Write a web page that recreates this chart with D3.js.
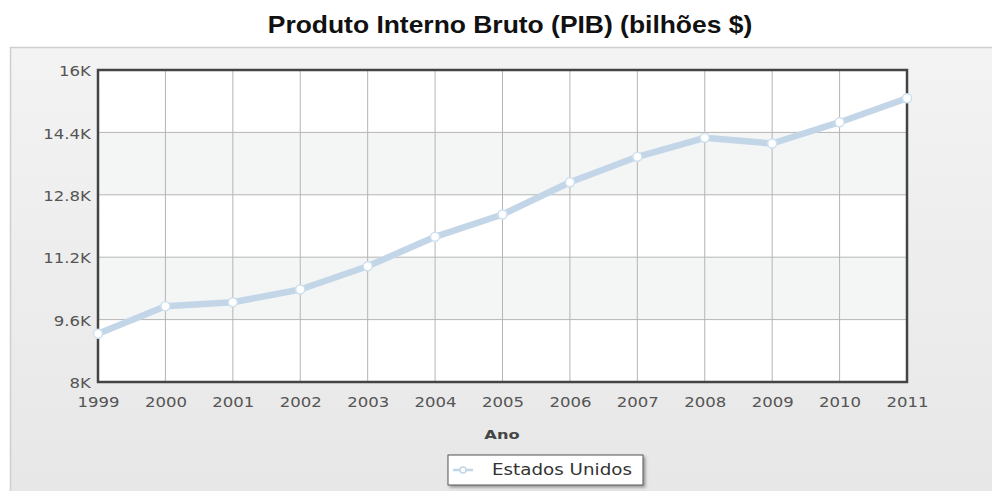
<!DOCTYPE html>
<html lang="pt">
	<head>
		<meta charset="utf-8">
		<title>PIB</title>
		<script src="https://cdn.jsdelivr.net/npm/d3@7"></script>
		<style type="text/css">
			body {
				margin: 0;
				background-color: #ffffff;
			}
			.tick text {
				font-family: "DejaVu Sans", Verdana, sans-serif;
				font-size: 14px;
				fill: #555;
			}
		</style>
	</head>
	<body>
		<script type="text/javascript">

			// Data
			var anos = ["1999", "2000", "2001", "2002", "2003", "2004", "2005", "2006", "2007", "2008", "2009", "2010", "2011"];
			var pib = [9236, 9944, 10046, 10372, 10969, 11723, 12295, 13123, 13774, 14261, 14115, 14661, 15277];
			var yTicks = [8000, 9600, 11200, 12800, 14400, 16000];
			var serie = "Estados Unidos";

			var w = 992, h = 491;
			var m = {left: 98, right: 907, top: 70, bottom: 382};
			// the source picture is stretched sideways a bit, so texts are too
			var stretch = 1.18;

			var svg = d3.select("body").append("svg")
				.attr("width", w)
				.attr("height", h);

			var defs = svg.append("defs");
			var grad = defs.append("linearGradient")
				.attr("id", "bg")
				.attr("x1", 0).attr("y1", 0).attr("x2", 0).attr("y2", 1);
			grad.append("stop").attr("offset", "0%").attr("stop-color", "#f3f3f3");
			grad.append("stop").attr("offset", "100%").attr("stop-color", "#e6e6e6");

			var shadow = defs.append("filter").attr("id", "shadow")
				.attr("x", "-10%").attr("y", "-20%").attr("width", "130%").attr("height", "160%");
			shadow.append("feDropShadow")
				.attr("dx", 2).attr("dy", 2).attr("stdDeviation", 1.5)
				.attr("flood-color", "#000").attr("flood-opacity", 0.35);

			// Title
			svg.append("text")
				.attr("transform", "translate(510,33) scale(1.15,1)")
				.attr("text-anchor", "middle")
				.attr("font-family", "Liberation Sans, Arial, sans-serif")
				.attr("font-weight", "bold")
				.attr("font-size", "23px")
				.attr("fill", "#111")
				.text("Produto Interno Bruto (PIB) (bilhões $)");

			// Outer panel
			svg.append("rect")
				.attr("x", 10.5)
				.attr("y", 47.5)
				.attr("width", w)
				.attr("height", h)
				.attr("fill", "url(#bg)")
				.attr("stroke", "#cfcfcf")
				.attr("stroke-width", 1.5);

			// Scales
			var x = d3.scalePoint()
				.domain(anos)
				.range([m.left, m.right]);

			var y = d3.scaleLinear()
				.domain([8000, 16000])
				.range([m.bottom, m.top]);

			// Plot background with alternating bands
			var plot = svg.append("g");
			plot.append("rect")
				.attr("x", m.left).attr("y", m.top)
				.attr("width", m.right - m.left)
				.attr("height", m.bottom - m.top)
				.attr("fill", "#ffffff");

			plot.selectAll("rect.band")
				.data(d3.pairs(yTicks).filter(function(d, i) { return i % 2 == 1; }))
				.enter().append("rect")
				.attr("class", "band")
				.attr("x", m.left)
				.attr("width", m.right - m.left)
				.attr("y", function(d) { return y(d[1]); })
				.attr("height", function(d) { return y(d[0]) - y(d[1]); })
				.attr("fill", "#f4f5f5");

			// Grid
			plot.selectAll("line.hgrid")
				.data(yTicks)
				.enter().append("line")
				.attr("class", "hgrid")
				.attr("x1", m.left).attr("x2", m.right)
				.attr("y1", function(d) { return y(d); })
				.attr("y2", function(d) { return y(d); })
				.attr("stroke", "#b5b5b5")
				.attr("stroke-width", 1);

			plot.selectAll("line.vgrid")
				.data(anos)
				.enter().append("line")
				.attr("class", "vgrid")
				.attr("y1", m.top).attr("y2", m.bottom)
				.attr("x1", function(d) { return x(d); })
				.attr("x2", function(d) { return x(d); })
				.attr("stroke", "#b5b5b5")
				.attr("stroke-width", 1);

			// Axes
			var yAxis = svg.append("g")
				.attr("transform", "translate(" + m.left + ",0)")
				.call(d3.axisLeft(y)
					.tickValues(yTicks)
					.tickSize(0)
					.tickPadding(6)
					.tickFormat(function(d) { return (d / 1000) + "K"; }));
			yAxis.select(".domain").remove();
			yAxis.selectAll(".tick text")
				.attr("dy", "0.4em")
				.attr("transform", "scale(" + stretch + ",1)");

			var xAxis = svg.append("g")
				.attr("transform", "translate(0," + m.bottom + ")")
				.call(d3.axisBottom(x)
					.tickSize(0)
					.tickPadding(15));
			xAxis.select(".domain").remove();
			xAxis.selectAll(".tick text")
				.attr("transform", "scale(" + stretch + ",1)");

			// Plot border
			svg.append("rect")
				.attr("x", m.left).attr("y", m.top)
				.attr("width", m.right - m.left)
				.attr("height", m.bottom - m.top)
				.attr("fill", "none")
				.attr("stroke", "#444")
				.attr("stroke-width", 2.5);

			// Line
			var line = d3.line()
				.x(function(d, i) { return x(anos[i]); })
				.y(function(d) { return y(d); });

			svg.append("path")
				.datum(pib)
				.attr("d", line)
				.attr("fill", "none")
				.attr("stroke", "#c2d6e8")
				.attr("stroke-width", 6.5)
				.attr("stroke-linejoin", "round");

			svg.selectAll("circle.pt")
				.data(pib)
				.enter().append("circle")
				.attr("class", "pt")
				.attr("cx", function(d, i) { return x(anos[i]); })
				.attr("cy", function(d) { return y(d); })
				.attr("r", 4.5)
				.attr("fill", "#ffffff")
				.attr("stroke", "#cfe0ee")
				.attr("stroke-width", 1.5);

			// Axis title
			svg.append("text")
				.attr("transform", "translate(502,439) scale(1.25,1)")
				.attr("text-anchor", "middle")
				.attr("font-family", "DejaVu Sans, Verdana, sans-serif")
				.attr("font-weight", "bold")
				.attr("font-size", "13px")
				.attr("fill", "#444")
				.text("Ano");

			// Legend
			var lg = svg.append("g").attr("transform", "translate(448,455)");
			lg.append("rect")
				.attr("width", 195).attr("height", 30)
				.attr("fill", "#fff")
				.attr("stroke", "#555")
				.attr("stroke-width", 1)
				.attr("filter", "url(#shadow)");
			lg.append("line")
				.attr("x1", 5).attr("x2", 25)
				.attr("y1", 15).attr("y2", 15)
				.attr("stroke", "#c2d6e8")
				.attr("stroke-width", 2.5);
			lg.append("circle")
				.attr("cx", 15).attr("cy", 15).attr("r", 3)
				.attr("fill", "#fff")
				.attr("stroke", "#c2d6e8")
				.attr("stroke-width", 1.5);
			lg.append("text")
				.attr("transform", "translate(44,20) scale(1.22,1)")
				.attr("font-family", "DejaVu Sans, Verdana, sans-serif")
				.attr("font-size", "15px")
				.attr("fill", "#333")
				.text(serie);

		</script>
	</body>
</html>
